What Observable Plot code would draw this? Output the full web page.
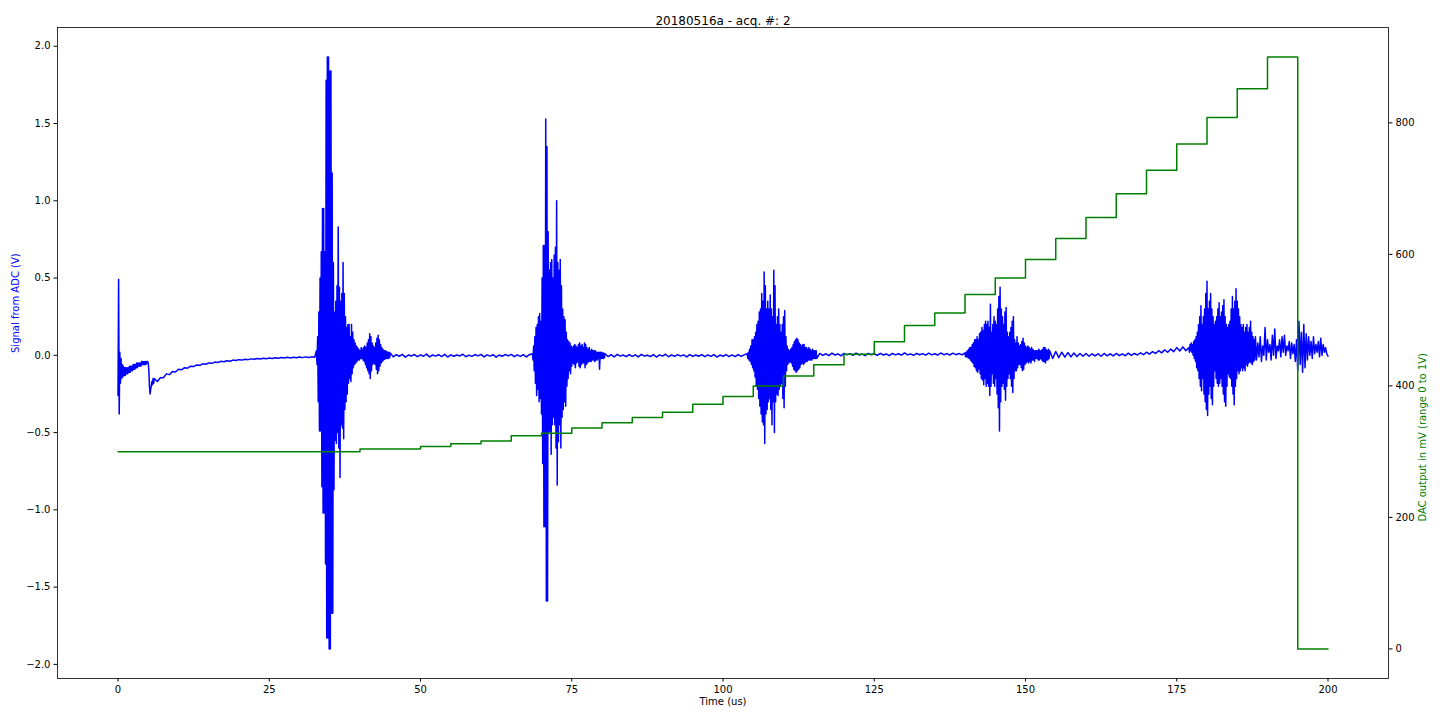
<!DOCTYPE html>
<html><head><meta charset="utf-8">
<script src="https://cdn.jsdelivr.net/npm/d3@7"></script>
<script src="https://cdn.jsdelivr.net/npm/@observablehq/plot@0.6"></script>
<style>body{margin:0;background:#fff;}</style>
</head><body><div id="chart"></div>
<script>
// Axis ticks
const xTicks = [0, 25, 50, 75, 100, 125, 150, 175, 200];
const leftTicks = [-2, -1.5, -1, -0.5, 0, 0.5, 1, 1.5, 2];
const rightTicks = [0, 200, 400, 600, 800];

// DAC output staircase (us, mV)
const dacTime = [0, 40, 50, 55, 60, 65, 70, 75, 80, 85, 90, 95, 100, 105, 110, 115, 120, 125, 130, 135, 140, 145, 150, 155, 160, 165, 170, 175, 180, 185, 190, 195, 200];
const dacMv = [300, 304, 308, 312, 316, 324, 328, 336, 344, 352, 360, 372, 384, 400, 415, 432, 448, 467, 492, 511, 539, 564, 592, 624, 656, 692, 728, 768, 808, 852, 900, 0, 0];

// ADC signal (V), read piecewise from the trace
const spikeV = [-0.26,0.49,-0.38,0.02,-0.18,-0.02,-0.15,-0.06,-0.14,-0.07,
 -0.13,-0.08,-0.13,-0.08,-0.12,-0.08,-0.12,-0.08,-0.11,-0.07,
 -0.11,-0.07,-0.1,-0.07,-0.1,-0.06,-0.09,-0.06,-0.09,-0.06,
 -0.08,-0.05,-0.08,-0.05,-0.07,-0.05,-0.07,-0.05,-0.07,-0.04,
 -0.06,-0.04,-0.06,-0.04,-0.06,-0.04,-0.06,-0.04,-0.05,-0.04,
 -0.05,-0.1,-0.2,-0.25,-0.22,-0.2,-0.17,-0.19,-0.15,-0.18,-0.15];
const decayV = [-0.17,-0.145,-0.145,-0.12,-0.125,-0.105,-0.108,-0.09,-0.094,-0.08,-0.083,-0.07,-0.073,-0.062,-0.065,-0.055,-0.058,-0.049,-0.052,-0.044,-0.046,-0.039,-0.042,-0.035,-0.038,-0.031,-0.034,-0.028,-0.031,-0.025,-0.028,-0.023,-0.026,-0.021,-0.024,-0.019,-0.022,-0.017,-0.02,-0.016,-0.019,-0.014,-0.018,-0.013,-0.017,-0.012,-0.016,-0.011,-0.015,-0.01,-0.014,-0.01,-0.013];
const burst1V = [0.03,-0.06,0.12,-0.3,0.28,-0.49,0.5,-0.49,0.67,-0.85,
 0.95,-1.02,0.95,-1.02,0.67,-1.35,1.78,-1.83,1.93,-1.83,
 1.93,-1.9,1.84,-1.9,1.84,-1.67,1.18,-1.67,0.6,-0.87,
 0.28,-0.55,0.35,-0.57,0.45,-0.5,0.83,-0.6,0.44,-0.79,
 0.35,-0.45,0.4,-0.47,0.6,-0.54,0.4,-0.35,0.25,-0.3,
 0.18,-0.25,0.2,-0.18,0.2,-0.15,0.12,-0.17,0.2,-0.12,
 0.15,-0.08,0.1,-0.06,0.08,-0.05,0.06,-0.04,0.05,-0.03,
 0.04,-0.03,0.03,-0.02,0.05,-0.02,0.04,-0.03,0.05,-0.04,
 0.06,-0.06,0.05,-0.08,0.08,-0.1,0.1,-0.12,0.14,-0.15,
 0.12,-0.1,0.08,-0.06,0.06,-0.05,0.05,-0.06,0.08,-0.09,
 0.11,-0.12,0.13,-0.1,0.1,-0.07,0.07,-0.05,0.05,-0.04,
 0.04,-0.03,0.03,-0.025,0.03,-0.02,0.025,-0.02,0.02,-0.02,
 0.02,-0.015,0.015];
const quietC = [-0.01,0.004,-0.006,0.006,-0.012,0.002,-0.004,0.005,-0.009,0.003,-0.006,0.008,-0.01,0.002,-0.005,0.004,-0.008,0.006,-0.011,0.003,-0.006,0.002,-0.004,0.007,-0.009,0.001,-0.007,0.005,-0.004,0.006,-0.01,0.003,-0.005,0.004,-0.012,0.002,-0.006,0.005,-0.004,0.006,-0.009,0.003,-0.007,0.004,-0.01,0.004];
const burst2V = [0.01,-0.03,0.06,-0.1,0.12,-0.18,0.18,-0.26,0.2,-0.22,
 0.25,-0.3,0.27,-0.28,0.22,-0.38,0.5,-0.7,0.71,-1.11,
 0.71,-1.11,1.53,-1.59,1.35,-1.59,0.8,-0.5,0.55,-0.49,
 0.6,-0.64,0.62,-0.45,0.5,-0.4,0.65,-0.45,0.7,-0.6,
 1.0,-0.84,0.6,-0.56,0.55,-0.45,0.62,-0.6,0.45,-0.4,
 0.3,-0.35,0.25,-0.3,0.23,-0.33,0.15,-0.2,0.1,-0.15,
 0.09,-0.1,0.08,-0.12,0.06,-0.07,0.05,-0.05,0.06,-0.06,
 0.07,-0.08,0.06,-0.05,0.05,-0.04,0.07,-0.07,0.08,-0.08,
 0.06,-0.06,0.07,-0.05,0.05,-0.05,0.08,-0.08,0.07,-0.06,
 0.05,-0.05,0.04,-0.04,0.05,-0.04,0.03,-0.04,0.04,-0.03,
 0.03,-0.03,0.03,-0.04,0.03,-0.03,0.02,-0.03,0.02,-0.02,
 0.02,-0.09,0.02,-0.02,0.02,-0.02,0.015,-0.02,0.015,-0.015,0.01];
const quietD = [-0.008,0.004,-0.011,0.006,-0.005,0.002,-0.009,0.005,-0.007,0.003,-0.01,0.006,-0.005,0.001,-0.008,0.005,-0.011,0.003,-0.005,0.007,-0.009,0.002,-0.007,0.005,-0.005,0.003,-0.01,0.005,-0.007,0.002,-0.006,0.005,-0.009,0.003,-0.007,0.005,-0.011,0.002,-0.006,0.005,-0.008,0.003,-0.009,0.005,-0.007,0.003];
const burst3V = [0.01,-0.02,0.02,-0.03,0.04,-0.04,0.06,-0.06,0.1,-0.08,
 0.1,-0.1,0.12,-0.14,0.15,-0.2,0.2,-0.22,0.22,-0.28,
 0.28,-0.33,0.3,-0.38,0.4,-0.43,0.35,-0.45,0.54,-0.57,
 0.45,-0.38,0.3,-0.35,0.35,-0.3,0.3,-0.28,0.39,-0.35,
 0.3,-0.45,0.25,-0.3,0.55,-0.5,0.45,-0.3,0.2,-0.25,
 0.25,-0.26,0.3,-0.22,0.2,-0.2,0.15,-0.18,0.2,-0.28,
 0.25,-0.34,0.29,-0.2,0.12,-0.1,0.06,-0.06,0.04,-0.05,
 0.03,-0.04,0.04,-0.05,0.05,-0.07,0.07,-0.09,0.09,-0.1,
 0.1,-0.11,0.11,-0.1,0.1,-0.09,0.08,-0.08,0.07,-0.06,
 0.06,-0.05,0.07,-0.06,0.07,-0.05,0.05,-0.04,0.05,-0.04,
 0.04,-0.03,0.05,-0.03,0.04,-0.03,0.03,-0.03,0.04,-0.02,
 0.03,-0.02,0.03,-0.02,0.03,-0.02];
const quietE = [0.012,0.0,0.01,-0.002,0.014,0.002,0.009,-0.003,0.012,0.003,0.01,0.0,0.015,0.002,0.008,-0.002,0.012,0.004,0.01,0.0,0.013,0.002,0.009,-0.002,0.012,0.003,0.01,0.001,0.016,0.003,0.009,0.0,0.012,0.004,0.011,0.001,0.014,0.003,0.01,0.002,0.015,0.004,0.011,0.002,0.014,0.004,0.012,0.003];
const burst4V = [0.015,-0.01,0.02,-0.01,0.03,-0.015,0.04,-0.02,0.05,-0.03,
 0.05,-0.04,0.07,-0.05,0.08,-0.07,0.1,-0.08,0.1,-0.1,
 0.12,-0.11,0.1,-0.09,0.14,-0.12,0.15,-0.15,0.18,-0.16,
 0.16,-0.19,0.2,-0.15,0.22,-0.2,0.2,-0.18,0.22,-0.2,
 0.18,-0.26,0.33,-0.2,0.15,-0.12,0.2,-0.18,0.25,-0.2,
 0.22,-0.15,0.2,-0.25,0.3,-0.34,0.38,-0.49,0.44,-0.3,
 0.3,-0.2,0.25,-0.18,0.2,-0.22,0.28,-0.29,0.31,-0.2,
 0.15,-0.15,0.12,-0.12,0.15,-0.15,0.18,-0.2,0.22,-0.24,
 0.25,-0.15,0.1,-0.1,0.08,-0.1,0.12,-0.08,0.08,-0.06,
 0.06,-0.06,0.07,-0.08,0.09,-0.1,0.11,-0.09,0.08,-0.06,
 0.06,-0.05,0.05,-0.04,0.06,-0.05,0.05,-0.04,0.04,-0.05,
 0.05,-0.03,0.04,-0.03,0.03,-0.04,0.03,-0.02,0.03,-0.02,
 0.03,-0.03,0.04,-0.03,0.03,-0.02,0.03,-0.03,0.04,-0.04,
 0.05,-0.04,0.05,-0.05,0.04,-0.03,0.03,-0.03,0.04,-0.02,0.03];
const quietF = [-0.02,0.025,-0.015,0.02,-0.012,0.018,-0.01,0.015,-0.008,0.012,-0.006,0.012,-0.006,0.01,-0.004,0.01,-0.006,0.012,-0.003,0.01,-0.004,0.012,-0.002,0.01,-0.003,0.014,0.0,0.012,0.002,0.016,0.004,0.02,0.008,0.024,0.012,0.03,0.016,0.035,0.02,0.04,0.024,0.05,0.028,0.055,0.03];
const burst5V = [0.05,0.02,0.07,0.03,0.08,0.02,0.07,0.0,0.09,-0.02,
 0.1,-0.04,0.12,-0.08,0.15,-0.1,0.2,-0.15,0.25,-0.2,
 0.32,-0.23,0.2,-0.15,0.25,-0.25,0.3,-0.3,0.4,-0.35,
 0.48,-0.39,0.3,-0.25,0.35,-0.2,0.4,-0.28,0.3,-0.32,
 0.25,-0.2,0.2,-0.1,0.22,-0.15,0.25,-0.18,0.3,-0.2,
 0.34,-0.18,0.25,-0.15,0.28,-0.2,0.32,-0.25,0.36,-0.3,
 0.25,-0.33,0.2,-0.2,0.18,-0.12,0.2,-0.14,0.22,-0.15,
 0.3,-0.2,0.38,-0.25,0.3,-0.32,0.35,-0.2,0.43,-0.15,
 0.35,-0.1,0.3,-0.12,0.25,-0.1,0.2,-0.08,0.18,-0.1,
 0.2,-0.08,0.15,-0.1,0.18,-0.06,0.2,-0.07,0.15,-0.05,
 0.18,-0.04,0.22,-0.05,0.15,-0.06,0.12,-0.04,0.1,-0.03,0.12];
const tailV = [-0.03,0.08,-0.01,0.12,-0.04,0.06,0.0,0.18,-0.03,0.1,
 0.02,0.07,-0.03,0.13,0.0,0.17,-0.02,0.06,0.03,0.1,
 -0.01,0.12,0.02,0.13,0.0,0.06,0.03,0.09,-0.02,0.08,
 0.01,0.07,-0.04,0.1,-0.1,0.22,-0.06,0.15,-0.11,0.2,
 -0.08,0.14,-0.03,0.12,0.0,0.09,-0.02,0.12,0.01,0.07,
 0.02,0.09,-0.01,0.11,0.0,0.07,0.02,0.05,0.01,-0.005];

// [start us, end us, values]
const segments = [
  [0, 6, spikeV], [6.5, 32.5, decayV], [32.8, 45.0, burst1V], [45.5, 68.0, quietC],
  [68.5, 80.5, burst2V], [81.0, 103.5, quietD], [104.0, 115.5, burst3V], [116.0, 139.5, quietE],
  [140.0, 154.0, burst4V], [154.5, 176.5, quietF], [177.0, 188.0, burst5V], [188.2, 200.0, tailV]
];

const signal = segments.flatMap(([t0, t1, vals]) =>
  vals.map((v, i) => ({t: t0 + i * (t1 - t0) / (vals.length - 1), v})));

const leftDomain = [-2.0915, 2.1215];
const rightDomain = [-45, 945];
const toLeft = mv => leftDomain[0] + (mv - rightDomain[0]) * (leftDomain[1] - leftDomain[0]) / (rightDomain[1] - rightDomain[0]);
const toRight = y => rightDomain[0] + (y - leftDomain[0]) * (rightDomain[1] - rightDomain[0]) / (leftDomain[1] - leftDomain[0]);
const dac = dacTime.map((t, i) => ({t, y: toLeft(dacMv[i])}));

const chart = Plot.plot({
  width: 1440, height: 720,
  marginTop: 27, marginBottom: 42, marginLeft: 57, marginRight: 52,
  style: {fontFamily: "DejaVu Sans", fontSize: "10px", color: "black", background: "white"},
  x: {domain: [-10, 210]},
  y: {domain: leftDomain},
  marks: [
    Plot.line(signal, {x: "t", y: "v", stroke: "#0000ff", strokeWidth: 1.5}),
    Plot.line(dac, {x: "t", y: "y", stroke: "#008000", strokeWidth: 1.5, curve: "step-after"}),
    Plot.frame({stroke: "black", strokeWidth: 0.8}),
    Plot.axisX({ticks: xTicks, tickSize: 3.5, tickPadding: 3.5, label: null, tickFormat: d => String(d)}),
    Plot.axisY({ticks: leftTicks, anchor: "left", tickSize: 3.5, tickPadding: 3.5, label: null,
      tickFormat: d => d.toFixed(1).replace("-", "\u2212")}),
    Plot.axisY({ticks: rightTicks.map(toLeft), anchor: "right", tickSize: 3.5, tickPadding: 3.5, label: null,
      tickFormat: d => String(Math.round(toRight(d)))}),
    Plot.text(["20180516a - acq. #: 2"], {text: d => d, frameAnchor: "top", dy: -11, fontSize: 12, fill: "black"}),
    Plot.text(["Time (us)"], {text: d => d, frameAnchor: "bottom", dy: 26, fontSize: 10, fill: "black"}),
    Plot.text(["Signal from ADC (V)"], {text: d => d, frameAnchor: "left", dx: -42, rotate: -90, fontSize: 10, fill: "#0000ff"}),
    Plot.text(["DAC output in mV (range 0 to 1V)"], {text: d => d, frameAnchor: "right", dx: 34, rotate: -90, fontSize: 10, fill: "#008000"})
  ]
});
document.getElementById("chart").append(chart);
</script>
</body></html>
